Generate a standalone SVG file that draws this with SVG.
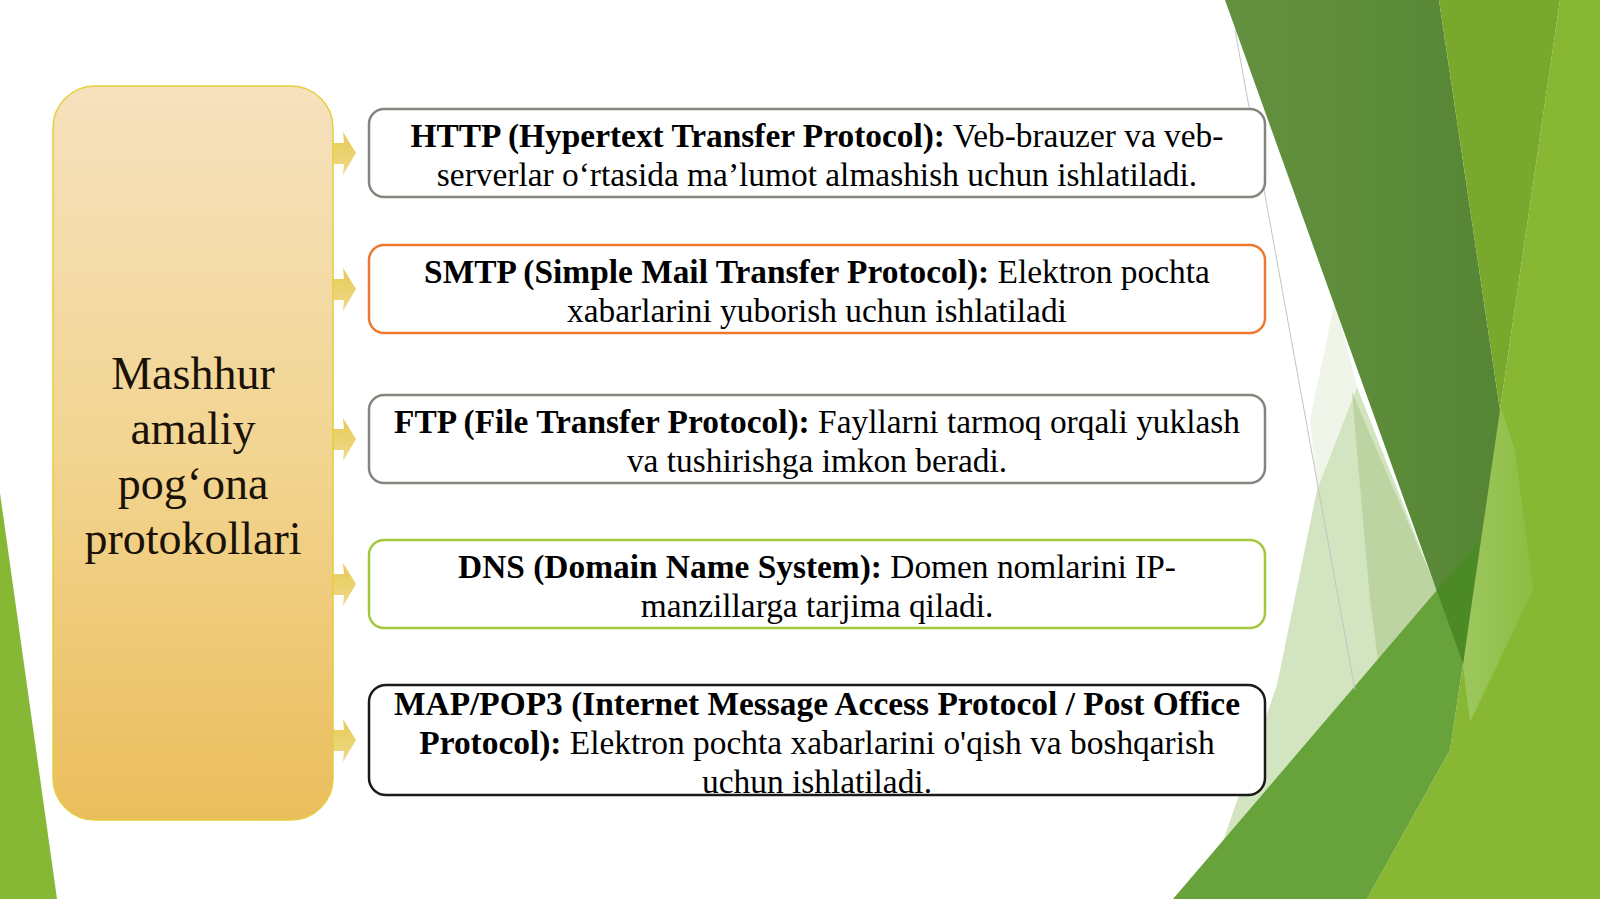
<svg xmlns="http://www.w3.org/2000/svg" width="1600" height="899" viewBox="0 0 1600 899">
<style>
.box{fill:#ffffff;stroke-width:2.5}
.t{font-family:"Liberation Serif","Times New Roman",serif;font-size:33.4px;text-anchor:middle;fill:#000000}
.b{font-weight:bold}
.lt{font-family:"Liberation Serif","Times New Roman",serif;font-size:46px;text-anchor:middle;fill:#1a1208}
.arrow{fill:url(#arrowGrad);stroke:none}
</style>
<defs>
<linearGradient id="panelGrad" x1="0" y1="0" x2="0" y2="1">
<stop offset="0" stop-color="#f6e1be"/>
<stop offset="0.5" stop-color="#f2d591"/>
<stop offset="1" stop-color="#ebbd5c"/>
</linearGradient>
<linearGradient id="arrowGrad" x1="0" y1="0" x2="0" y2="1">
<stop offset="0" stop-color="#e6cb55"/>
<stop offset="1" stop-color="#efd98a"/>
</linearGradient>
<linearGradient id="darkGrad" x1="0" y1="0" x2="1" y2="0">
<stop offset="0" stop-color="#63913f"/>
<stop offset="1" stop-color="#568635"/>
</linearGradient>
<linearGradient id="patchGrad" x1="0" y1="0" x2="1" y2="0">
<stop offset="0" stop-color="#9dc75f"/>
<stop offset="1" stop-color="#8dbd42"/>
</linearGradient>
</defs>
<rect x="0" y="0" width="1600" height="899" fill="#ffffff"/>
<g id="background">
<polygon points="1560,0 1600,0 1600,899 1367,899 1450,750 1463,664 1500,410" fill="#88b734"/>
<polygon points="1500,405 1515,450 1533,590 1470,722 1463,664" fill="url(#patchGrad)"/>
<polygon points="1335,300 1357,387 1317,490 1310,420" fill="#f0f5ea"/>
<polygon points="1357,387 1437,590 1220,850 1277,685 1317,490" fill="#d3e4c0"/>
<polygon points="1352,392 1437,590 1378,660 1370,600 1356,440" fill="#bcd4a2"/>
<polygon points="1173,899 1437,590 1463,664 1450,750 1367,899" fill="#67a23b"/>
<polygon points="1225,0 1439,0 1500,410 1463,664" fill="url(#darkGrad)"/>
<polygon points="1437,590 1480,540 1463,664" fill="#4b8a24"/>
<polygon points="1439,0 1560,0 1500,410" fill="#78a82c"/>
<line x1="1235" y1="30" x2="1355" y2="690" stroke="#c4c4c4" stroke-width="1"/>
<polygon points="0,493 57,899 0,899" fill="#86b836"/>
</g>
<g id="connectors">
<polygon class="arrow" points="333,143 344,143 343,132 356,153 343,175 344,164 333,164"/>
<polygon class="arrow" points="333,279 344,279 343,268 356,289 343,311 344,300 333,300"/>
<polygon class="arrow" points="333,429 344,429 343,418 356,439 343,461 344,450 333,450"/>
<polygon class="arrow" points="333,574 344,574 343,563 356,584 343,606 344,595 333,595"/>
<polygon class="arrow" points="333,730 344,730 343,719 356,740 343,762 344,751 333,751"/>
</g>
<g id="center">
<rect x="53" y="86" width="280" height="734" rx="42" ry="42" fill="url(#panelGrad)" stroke="#e4cd3e" stroke-width="1.5"/>
<text class="lt" x="193" y="389">Mashhur</text>
<text class="lt" x="193" y="444">amaliy</text>
<text class="lt" x="193" y="499">pog‘ona</text>
<text class="lt" x="193" y="554">protokollari</text>
</g>
<g id="box-http">
<rect class="box" x="369" y="109" width="896" height="88" rx="15" ry="15" stroke="#85857d"/>
<text class="t" x="817" y="147"><tspan class="b">HTTP (Hypertext Transfer Protocol):</tspan> Veb-brauzer va veb-</text>
<text class="t" x="817" y="186">serverlar o‘rtasida ma’lumot almashish uchun ishlatiladi.</text>
</g>
<g id="box-smtp">
<rect class="box" x="369" y="245" width="896" height="88" rx="15" ry="15" stroke="#ec7a2e"/>
<text class="t" x="817" y="283"><tspan class="b">SMTP (Simple Mail Transfer Protocol):</tspan> Elektron pochta</text>
<text class="t" x="817" y="322">xabarlarini yuborish uchun ishlatiladi</text>
</g>
<g id="box-ftp">
<rect class="box" x="369" y="395" width="896" height="88" rx="15" ry="15" stroke="#85857d"/>
<text class="t" x="817" y="433"><tspan class="b">FTP (File Transfer Protocol):</tspan> Fayllarni tarmoq orqali yuklash</text>
<text class="t" x="817" y="472">va tushirishga imkon beradi.</text>
</g>
<g id="box-dns">
<rect class="box" x="369" y="540" width="896" height="88" rx="15" ry="15" stroke="#a3c73e"/>
<text class="t" x="817" y="578"><tspan class="b">DNS (Domain Name System):</tspan> Domen nomlarini IP-</text>
<text class="t" x="817" y="617">manzillarga tarjima qiladi.</text>
</g>
<g id="box-imap">
<rect class="box" x="369" y="685" width="896" height="110" rx="17" ry="17" stroke="#1a1a1a"/>
<text class="t b" x="817" y="715">MAP/POP3 (Internet Message Access Protocol / Post Office</text>
<text class="t" x="817" y="754"><tspan class="b">Protocol):</tspan> Elektron pochta xabarlarini o'qish va boshqarish</text>
<text class="t" x="817" y="793">uchun ishlatiladi.</text>
</g>
</svg>
